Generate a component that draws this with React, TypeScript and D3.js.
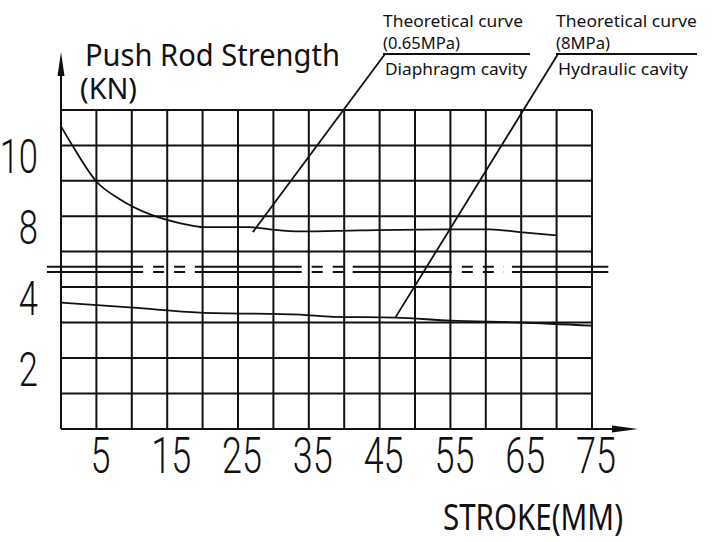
import React from 'react'
import * as d3 from 'd3'

// stroke (mm) on x, push rod strength (kN) on y
const xTicks = [5, 15, 25, 35, 45, 55, 65, 75]
const yTicks = [10, 8, 4, 2]
const gridX = d3.range(0, 80, 5)
const gridY = [0, 1, 2, 3, 4, 7, 8, 9, 10, 11]

// theoretical curve 0.65MPa - diaphragm cavity
const diaphragmStroke = [0, 1.6, 5, 8.3, 12.6, 16.9, 20.3, 26.7, 29.5, 33.8, 42.2, 55, 60.6, 64.8, 70]
const diaphragmForce = [10.54, 10.0, 8.98, 8.48, 8.05, 7.8, 7.69, 7.69, 7.63, 7.57, 7.6, 7.63, 7.63, 7.55, 7.46]

// theoretical curve 8MPa - hydraulic cavity
const hydraulicStroke = [0, 10.2, 19.6, 33.8, 38.4, 47.2, 55, 64.8, 75]
const hydraulicForce = [3.56, 3.42, 3.28, 3.22, 3.16, 3.14, 3.05, 3.0, 2.91]

const labelTop = ['Theoretical curve', 'Theoretical curve']
const labelMid = ['(0.65MPa)', '(8MPa)']
const labelBottom = ['Diaphragm cavity', 'Hydraulic cavity']
const anchorStroke = [27.1, 47.2]
const anchorForce = [7.55, 3.13]

// gaps in the broken-axis double line (mm)
const breakGaps = [[11.6, 18.9], [34, 41.2], [55.2, 63.7]]

const W = 720, H = 542
const font = "'Noto Sans', 'Open Sans', sans-serif"
const digitFont = "Roboto, 'DejaVu Sans', sans-serif"

const App = () => {
    const x = d3.scaleLinear().domain([0, 75]).range([61, 592])
    // broken axis: 4..6 collapsed into the double line
    const y = d3.scaleLinear().domain([0, 4, 6, 11]).range([429, 287, 287, 110])

    const line = d3.line<[number, number]>()
        .x(d => x(d[0]))
        .y(d => y(d[1]))
        .curve(d3.curveMonotoneX)

    const upper = line(diaphragmStroke.map((s, i) => [s, diaphragmForce[i]] as [number, number]))
    const lower = line(hydraulicStroke.map((s, i) => [s, hydraulicForce[i]] as [number, number]))

    const breakMid = (y(4) + y(7)) / 2
    const x0 = x(0), x1 = x(75)

    // label boxes (pixel layout)
    const boxX = [383, 556]
    const boxW = [147, 141]
    const lenTop = [140, 141]
    const lenMid = [77, 54]
    const lenBottom = [142, 130]

    const solidRuns: [number, number][] = []
    let start = -2
    breakGaps.forEach(g => { solidRuns.push([start, g[0]]); start = g[1] })
    solidRuns.push([start, 77.3])

    return (
        <svg width={W} height={H} style={{ display: 'block', position: 'absolute', left: 0, top: 0, background: '#fff' }}>
            <g stroke="#111" strokeWidth={2} fill="none">
                {gridX.map(v => <line key={'vx' + v} x1={x(v)} x2={x(v)} y1={y(11)} y2={y(0)} />)}
                {gridY.map(v => <line key={'hy' + v} x1={x0} x2={x1} y1={y(v)} y2={y(v)} />)}
            </g>
            {/* axis break double line */}
            <g stroke="#111" strokeWidth={2} fill="none">
                {[-2.6, 2.6].map(o => (
                    <g key={o}>
                        {solidRuns.map((r, i) => <line key={i} x1={x(r[0])} x2={x(r[1])} y1={breakMid + o} y2={breakMid + o} />)}
                        {breakGaps.map((g, i) => (
                            <line key={'d' + i} x1={x(g[0]) + 10} x2={x(g[1]) - 8} y1={breakMid + o} y2={breakMid + o} strokeDasharray="11,10" />
                        ))}
                    </g>
                ))}
            </g>
            {/* axes with arrows */}
            <g stroke="#111" strokeWidth={2}>
                <line x1={x0} x2={x0} y1={y(0)} y2={70} />
                <line x1={x0} x2={620} y1={y(0)} y2={y(0)} />
            </g>
            <polygon points={`${x0},52 ${x0 - 3.5},76 ${x0 + 3.5},76`} fill="#111" />
            <polygon points={`638,${y(0)} 612,${y(0) - 3.5} 612,${y(0) + 3.5}`} fill="#111" />

            {/* curves */}
            <path d={upper || ''} fill="none" stroke="#111" strokeWidth={1.8} />
            <path d={lower || ''} fill="none" stroke="#111" strokeWidth={1.8} />

            {/* leaders + labels */}
            {labelTop.map((t, i) => (
                <g key={'lab' + i} fill="#111" fontFamily={font} fontSize={17}>
                    <line x1={x(anchorStroke[i])} y1={y(anchorForce[i])} x2={boxX[i] + 2} y2={54} stroke="#111" strokeWidth={1.8} />
                    <line x1={boxX[i]} x2={boxX[i] + boxW[i]} y1={54} y2={54} stroke="#111" strokeWidth={1.8} />
                    <text x={boxX[i]} y={27} textLength={lenTop[i]} lengthAdjust="spacingAndGlyphs">{t}</text>
                    <text x={boxX[i]} y={49} textLength={lenMid[i]} lengthAdjust="spacingAndGlyphs">{labelMid[i]}</text>
                    <text x={boxX[i] + 2} y={75} textLength={lenBottom[i]} lengthAdjust="spacingAndGlyphs">{labelBottom[i]}</text>
                </g>
            ))}

            {/* titles */}
            <text x={85} y={66} fontFamily={font} fontSize={30} fill="#111" textLength={255} lengthAdjust="spacingAndGlyphs">Push Rod Strength</text>
            <text x={80} y={99} fontFamily={font} fontSize={29} fill="#111" textLength={57} lengthAdjust="spacingAndGlyphs">(KN)</text>
            <text x={443} y={530} fontFamily={font} fontSize={36} fill="#111" textLength={180} lengthAdjust="spacingAndGlyphs">STROKE(MM)</text>

            {/* tick labels */}
            {xTicks.map(v => (
                <text key={'xt' + v} transform={`translate(${x(v) + 4},473) scale(0.72,1)`} textAnchor="middle"
                    fontFamily={digitFont} fontWeight={300} fontSize={50} fill="#111">{v}</text>
            ))}
            {yTicks.map(v => (
                <text key={'yt' + v} transform={`translate(38,${y(v) + 28}) scale(0.72,1)`} textAnchor="end"
                    fontFamily={digitFont} fontWeight={300} fontSize={48} fill="#111">{v}</text>
            ))}
        </svg>
    )
}

export default App
